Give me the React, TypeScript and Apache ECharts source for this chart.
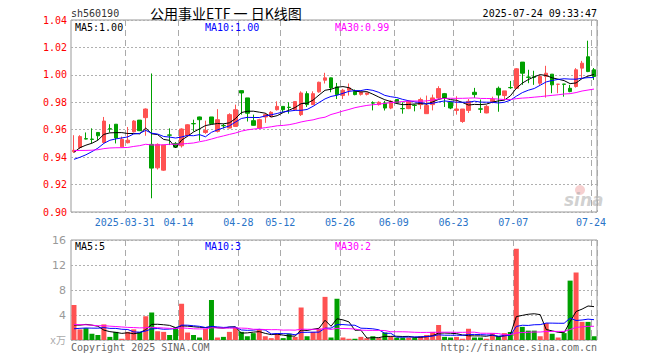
import React, { useEffect, useRef } from 'react';
import * as echarts from 'echarts';

// Trading days shown
const dates = [
  '2025-03-18','2025-03-19','2025-03-20','2025-03-21','2025-03-24','2025-03-25','2025-03-26','2025-03-27','2025-03-28','2025-03-31',
  '2025-04-01','2025-04-02','2025-04-03','2025-04-07','2025-04-08','2025-04-09','2025-04-10','2025-04-11',
  '2025-04-14','2025-04-15','2025-04-16','2025-04-17','2025-04-18',
  '2025-04-21','2025-04-22','2025-04-23','2025-04-24','2025-04-25',
  '2025-04-28','2025-04-29','2025-04-30',
  '2025-05-06','2025-05-07','2025-05-08','2025-05-09',
  '2025-05-12','2025-05-13','2025-05-14','2025-05-15','2025-05-16',
  '2025-05-19','2025-05-20','2025-05-21','2025-05-22','2025-05-23',
  '2025-05-26','2025-05-27','2025-05-28','2025-05-29','2025-05-30',
  '2025-06-03','2025-06-04','2025-06-05','2025-06-06',
  '2025-06-09','2025-06-10','2025-06-11','2025-06-12','2025-06-13',
  '2025-06-16','2025-06-17','2025-06-18','2025-06-19','2025-06-20',
  '2025-06-23','2025-06-24','2025-06-25','2025-06-26','2025-06-27',
  '2025-06-30',
  '2025-07-01','2025-07-02','2025-07-03','2025-07-04',
  '2025-07-07','2025-07-08','2025-07-09','2025-07-10','2025-07-11',
  '2025-07-14','2025-07-15','2025-07-16','2025-07-17','2025-07-18',
  '2025-07-21','2025-07-22','2025-07-23','2025-07-24',
];

const opens = [
  0.944, 0.947, 0.9535, 0.9532, 0.958, 0.9507, 0.9607, 0.964, 0.9475, 0.9505,
  0.9585, 0.967, 0.9688, 0.9493, 0.9322, 0.9305, 0.9562, 0.950, 0.9483, 0.9556,
  0.9645, 0.9693, 0.958, 0.9693, 0.9588, 0.963, 0.9612, 0.9624, 0.9885, 0.9832,
  0.9666, 0.9612, 0.9693, 0.9697, 0.9746, 0.977, 0.9764, 0.9746, 0.971, 0.9863,
  0.9783, 0.9876, 0.9961, 0.9978, 0.9912, 0.9849, 0.9888, 0.988, 0.9858, 0.9858,
  0.9796, 0.9783, 0.9795, 0.9758, 0.982, 0.9755, 0.9754, 0.9779, 0.9783, 0.9717,
  0.9783, 0.9832, 0.9863, 0.980, 0.9741, 0.966, 0.9741, 0.9873, 0.9752, 0.9722,
  0.9805, 0.9902, 0.9849, 0.9908, 0.9902, 1.0093, 0.9984, 0.9985, 0.9939, 0.9988,
  1.0005, 0.9931, 0.9933, 0.9902, 0.9915, 1.0049, 1.0132, 1.0037,
];
const closes = [
  0.945, 0.955, 0.9532, 0.9529, 0.9556, 0.9663, 0.9605, 0.954, 0.953, 0.9524,
  0.9663, 0.9593, 0.9751, 0.932, 0.9493, 0.9488, 0.956, 0.9473, 0.9605, 0.9636,
  0.9643, 0.9673, 0.9595, 0.9644, 0.9673, 0.9629, 0.971, 0.9746, 0.9868, 0.972,
  0.9632, 0.9673, 0.971, 0.9727, 0.977, 0.9746, 0.9762, 0.9805, 0.9868, 0.9783,
  0.9863, 0.9946, 0.9978, 0.9905, 0.9856, 0.9888, 0.9905, 0.9856, 0.9873, 0.9868,
  0.9794, 0.980, 0.9758, 0.9807, 0.9795, 0.9753, 0.9807, 0.9777, 0.982, 0.9776,
  0.9832, 0.990, 0.9832, 0.9758, 0.9751, 0.9751, 0.9807, 0.9856, 0.975, 0.977,
  0.9822, 0.9853, 0.9883, 0.9906, 1.0044, 1.0012, 0.9982, 0.9983, 0.9988, 1.0012,
  0.9927, 0.9932, 0.9931, 0.9878, 1.0037, 1.0085, 1.0024, 0.9988,
];
const lows = [
  0.943, 0.946, 0.953, 0.950, 0.9524, 0.950, 0.958, 0.950, 0.947, 0.950,
  0.958, 0.959, 0.9556, 0.910, 0.931, 0.930, 0.9488, 0.947, 0.947, 0.955,
  0.9588, 0.952, 0.957, 0.964, 0.958, 0.961, 0.961, 0.962, 0.971, 0.966,
  0.963, 0.9605, 0.965, 0.969, 0.974, 0.9727, 0.9717, 0.974, 0.970, 0.9766,
  0.978, 0.987, 0.9937, 0.9873, 0.9824, 0.9824, 0.9849, 0.9851, 0.9849, 0.985,
  0.9741, 0.9776, 0.974, 0.975, 0.979, 0.9717, 0.975, 0.9734, 0.975, 0.9717,
  0.9741, 0.9824, 0.9766, 0.975, 0.971, 0.965, 0.9722, 0.9832, 0.9722, 0.972,
  0.9793, 0.9731, 0.9817, 0.9898, 0.9897, 0.9927, 0.9939, 0.9927, 0.9927, 0.9834,
  0.9866, 0.9866, 0.9841, 0.9873, 0.9907, 0.9976, 1.002, 0.9963,
];
const highs = [
  0.956, 0.956, 0.958, 0.961, 0.958, 0.9693, 0.964, 0.964, 0.955, 0.962,
  0.967, 0.967, 0.9755, 1.001, 0.950, 0.949, 0.961, 0.951, 0.961, 0.964,
  0.9673, 0.9695, 0.9666, 0.9693, 0.975, 0.9644, 0.972, 0.9783, 0.9885, 0.9832,
  0.971, 0.968, 0.972, 0.9735, 0.9807, 0.977, 0.980, 0.9805, 0.988, 0.988,
  0.988, 0.995, 1.0015, 0.998, 0.9941, 0.9898, 0.9937, 0.9893, 0.9878, 0.987,
  0.9807, 0.9807, 0.981, 0.9815, 0.982, 0.980, 0.9815, 0.9785, 0.9834, 0.9849,
  0.9856, 0.9917, 0.9868, 0.9807, 0.9844, 0.9751, 0.9824, 0.9905, 0.982, 0.978,
  0.9841, 0.9915, 0.9883, 0.9956, 1.0049, 1.0093, 1.0037, 1.003, 1.000, 1.0066,
  1.0005, 0.9934, 0.9933, 0.9927, 1.0049, 1.0102, 1.0249, 1.005,
];
// volume, in 万手
const volumes = [
  5.6, 1.7, 1.9, 1.0, 0.8, 2.5, 0.5, 1.3, 0.2, 1.3,
  1.7, 1.3, 3.8, 4.4, 1.4, 1.3, 0.8, 2.0, 5.8, 1.2,
  0.8, 0.4, 1.8, 6.4, 0.4, 0.5, 1.3, 2.0, 1.3, 0.6,
  1.1, 1.7, 0.6, 0.3, 1.0, 0.3, 1.0, 0.5, 5.2, 0.6,
  1.3, 1.8, 6.9, 0.4, 6.6, 0.4, 0.2, 0.2, 0.5, 0.3,
  0.6, 0.3, 1.2, 0.5, 0.4, 0.4, 0.4, 0.4, 0.6, 0.8,
  1.3, 2.4, 0.5, 0.4, 0.5, 0.2, 1.8, 0.4, 0.4, 0.2,
  1.1, 0.6, 1.1, 1.3, 14.6, 2.1, 1.5, 1.5, 0.6, 2.7,
  1.0, 0.4, 1.1, 9.5, 10.8, 2.9, 2.9, 0.6,
];
// Earlier sessions (not drawn), estimated from the MA levels at the left edge
const priorCloses = [
  0.950, 0.952, 0.948, 0.945, 0.943, 0.946, 0.949, 0.951, 0.948, 0.944,
  0.942, 0.945, 0.947, 0.949, 0.946, 0.944, 0.947, 0.955, 0.953, 0.953,
  0.940, 0.935, 0.930, 0.930, 0.9315, 0.938, 0.944, 0.946, 0.9445,
];
const priorVolumes = [
  3.2, 2.5, 2.8, 3.5, 2.1, 2.9, 3.0, 2.4, 3.3, 2.6,
  2.7, 3.1, 2.2, 3.4, 2.8, 2.5, 3.0, 2.6, 3.1, 3.3,
  1.0, 1.4, 1.2, 0.9, 1.5, 1.8, 1.3, 1.6, 1.7,
];
const labelDates = ['2025-03-31', '2025-04-14', '2025-04-28', '2025-05-12', '2025-05-26', '2025-06-09', '2025-06-23', '2025-07-07', '2025-07-24'];

const UP = '#ff5252';
const DOWN = '#00a000';

function movingAverage(prior: number[], values: number[], n: number): number[] {
  const all = prior.concat(values);
  const off = prior.length;
  return values.map((_, i) => {
    let s = 0;
    for (let k = off + i - n + 1; k <= off + i; k++) s += all[k];
    return s / n;
  });
}

export default function App() {
  const ref = useRef<HTMLDivElement>(null);
  useEffect(() => {
    if (!ref.current) return;
    const chart = echarts.init(ref.current, undefined, { renderer: 'svg' });
    const ma5 = movingAverage(priorCloses, closes, 5);
    const ma10 = movingAverage(priorCloses, closes, 10);
    const ma30 = movingAverage(priorCloses, closes, 30);
    const vma5 = movingAverage(priorVolumes, volumes, 5);
    const vma10 = movingAverage(priorVolumes, volumes, 10);
    const vma30 = movingAverage(priorVolumes, volumes, 30);
    const last = dates.length - 1;
    const labelIdx = new Set(labelDates.map((d) => dates.indexOf(d)));
    const firstLabel = dates.indexOf(labelDates[0]);
    const mono = '"DejaVu Sans Mono", "Noto Sans CJK SC", monospace';
    const up = (i: number) => closes[i] > opens[i] || (closes[i] === opens[i] && i > 0 && closes[i] >= closes[i - 1]);

    const vSplit = {
      show: true,
      interval: (i: number) => labelIdx.has(i),
      lineStyle: { color: '#aaaaaa', type: [6, 4] as any, width: 1 },
    };
    const hSplit = { show: true, lineStyle: { color: '#b0b0b0', type: [2, 2] as any, width: 1 } };

    const txt = (text: string, x: number, y: number, fill: string, font: string, align = 'left') => ({
      type: 'text', x, y, silent: true, z: 100,
      style: { text, fill, font, textAlign: align, textVerticalAlign: 'middle' },
    });

    const option: any = {
      animation: false,
      backgroundColor: '#ffffff',
      grid: [
        { left: 71, top: 20, width: 526, height: 192, show: true, borderColor: '#999', borderWidth: 1, backgroundColor: 'transparent' },
        { left: 71, top: 240, width: 526, height: 100, show: true, borderColor: '#999', borderWidth: 1, backgroundColor: 'transparent' },
      ],
      xAxis: [
        {
          type: 'category', gridIndex: 0, data: dates, boundaryGap: true,
          axisLine: { show: false }, axisTick: { show: false },
          axisLabel: {
            interval: (i: number) => labelIdx.has(i),
            formatter: (v: string, i: number) => (i === firstLabel ? v : v.slice(5)),
            color: '#2a74c8', fontSize: 10, fontFamily: mono, margin: 5, padding: [0, 6, 0, 0],
          },
          splitLine: vSplit,
        },
        {
          type: 'category', gridIndex: 1, data: dates, boundaryGap: true,
          axisLine: { show: false }, axisTick: { show: false }, axisLabel: { show: false },
          splitLine: vSplit,
        },
      ],
      yAxis: [
        {
          type: 'value', gridIndex: 0, min: 0.9, max: 1.04, interval: 0.02,
          axisLine: { show: false }, axisTick: { show: false },
          axisLabel: { color: '#ff0000', fontSize: 10, fontFamily: mono, margin: 4, formatter: (v: number) => v.toFixed(2) },
          splitLine: hSplit,
        },
        {
          type: 'value', gridIndex: 1, min: 0, max: 16, interval: 4,
          axisLine: { show: false }, axisTick: { show: false },
          axisLabel: { color: '#999', fontSize: 11, fontFamily: '"DejaVu Sans", sans-serif', margin: 5, formatter: (v: number) => (v === 0 ? '' : String(v)) },
          splitLine: hSplit,
        },
      ],
      series: [
        {
          type: 'candlestick', xAxisIndex: 0, yAxisIndex: 0, barWidth: 4, silent: true,
          data: dates.map((_, i) => [opens[i], closes[i], lows[i], highs[i]]),
          itemStyle: { color: UP, color0: DOWN, borderColor: UP, borderColor0: DOWN, borderWidth: 1 },
        },
        { type: 'line', xAxisIndex: 0, yAxisIndex: 0, data: ma5, symbol: 'none', silent: true, lineStyle: { color: '#000', width: 1 } },
        { type: 'line', xAxisIndex: 0, yAxisIndex: 0, data: ma10, symbol: 'none', silent: true, lineStyle: { color: '#0000ff', width: 1 } },
        { type: 'line', xAxisIndex: 0, yAxisIndex: 0, data: ma30, symbol: 'none', silent: true, lineStyle: { color: '#ff00ff', width: 1 } },
        {
          type: 'bar', xAxisIndex: 1, yAxisIndex: 1, barWidth: 5, silent: true,
          data: volumes.map((v, i) => ({ value: v, itemStyle: { color: up(i) ? UP : DOWN } })),
        },
        { type: 'line', xAxisIndex: 1, yAxisIndex: 1, data: vma5, symbol: 'none', silent: true, lineStyle: { color: '#000', width: 1 } },
        { type: 'line', xAxisIndex: 1, yAxisIndex: 1, data: vma10, symbol: 'none', silent: true, lineStyle: { color: '#0000ff', width: 1 } },
        { type: 'line', xAxisIndex: 1, yAxisIndex: 1, data: vma30, symbol: 'none', silent: true, lineStyle: { color: '#ff00ff', width: 1 } },
      ],
      graphic: [
        txt('sh560190', 71, 13, '#333', `10px ${mono}`),
        txt('公用事业ETF 一 日K线图', 150, 13, '#000', '14px "Noto Sans CJK SC", sans-serif'),
        txt('2025-07-24 09:33:47', 597, 13, '#000', `10px ${mono}`, 'right'),
        txt('MA5:' + ma5[last].toFixed(2), 75, 27, '#000', `10px ${mono}`),
        txt('MA10:' + ma10[last].toFixed(2), 205, 27, '#0000ff', `10px ${mono}`),
        txt('MA30:' + ma30[last].toFixed(2), 335, 27, '#ff00ff', `10px ${mono}`),
        txt('MA5:' + vma5[last].toFixed(0), 75, 246, '#000', `10px ${mono}`),
        txt('MA10:' + vma10[last].toFixed(0), 205, 246, '#0000ff', `10px ${mono}`),
        txt('MA30:' + vma30[last].toFixed(0), 335, 246, '#ff00ff', `10px ${mono}`),
        txt('x万', 66, 340, '#aaa', `10px ${mono}`, 'right'),
        txt('Copyright 2025 SINA.COM', 71, 347, '#666', `10px ${mono}`),
        txt('http://finance.sina.com.cn', 597, 347, '#666', `10px ${mono}`, 'right'),
        { type: 'circle', silent: true, z: 90, shape: { cx: 580, cy: 190, r: 5 }, style: { fill: 'rgba(230,120,120,0.35)' } },
        {
          type: 'text', x: 564, y: 200, silent: true, z: 90,
          style: { text: 'sina', fill: 'rgba(170,170,170,0.55)', font: 'italic bold 17px "DejaVu Sans", sans-serif', textVerticalAlign: 'middle' },
        },
      ],
    };
    chart.setOption(option);
    return () => chart.dispose();
  }, []);
  return <div ref={ref} style={{ position: 'absolute', left: 0, top: 0, width: 660, height: 360 }} />;
}
